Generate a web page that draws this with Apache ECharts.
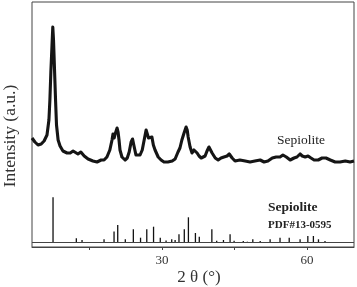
<!DOCTYPE html>
<html>
<head>
<meta charset="utf-8">
<script src="https://cdn.jsdelivr.net/npm/echarts@6/dist/echarts.min.js"></script>
<style>
html,body{margin:0;padding:0;background:#fff;}
#chart{width:357px;height:287px;}
</style>
</head>
<body>
<div id="chart"></div>
<script>
// XRD pattern (2θ in degrees, intensity in arbitrary units)
var twoTheta = [3.1,3.7,4.35,5.0,5.6,6.2,6.6,6.8,7.0,7.24,7.4,7.55,7.76,7.97,8.17,8.5,8.9,9.5,10.35,11.0,11.6,12.0,12.6,13.2,13.9,14.7,15.7,16.55,17.4,18.0,18.6,19.2,19.65,19.85,20.1,20.3,20.7,20.9,21.1,21.3,21.7,22.35,22.8,23.2,23.6,23.9,24.2,24.6,25.0,25.45,25.9,26.3,26.7,26.9,27.2,27.5,27.9,28.2,28.55,29.2,29.8,30.4,31.2,32.1,32.7,33.3,33.7,34.1,34.55,34.97,35.2,35.4,35.8,36.2,36.6,36.9,37.25,37.65,38.1,38.5,38.9,39.3,39.7,40.0,40.35,41.0,41.6,42.2,42.8,43.45,43.9,44.5,45.1,46.1,47.2,48.2,49.2,50.3,51.1,51.9,52.8,53.6,54.4,55.0,55.7,56.5,57.3,57.9,58.55,59.0,59.6,60.2,60.8,61.45,62.3,63.1,63.9,64.8,65.8,66.8,67.9,68.9,69.7];
var intensity = [109,105,102,103,106,112,127,147,175,202,220,207,177,147,122,107,101,96,94,94,96,94,93,95,91,88,86,85,87,87,90,97,107,113,109,113,119,115,107,97,90,87,89,95,105,108,101,92,91,92,97,107,117,117,109,107,110,102,97,90,87,85,85,86,88,95,99,107,114,120,117,110,100,94,97,98,94,91,89,87,91,96,100,98,94,89,87,89,90,91,93,89,86,87,86,85,86,87,85,86,89,90,90,92,90,87,89,90,93,91,90,91,89,87,87,89,89,87,85,85,86,85,86];

// Reference pattern PDF#13-0595 (stick positions and tops)
var stickTheta = [7.45,12.27,13.45,18.0,20.07,20.83,22.4,24.06,25.55,26.84,28.24,29.63,30.83,32.0,32.7,33.5,34.6,35.45,36.9,37.7,40.3,41.3,42.7,44.07,44.9,46.8,47.65,48.77,50.3,52.35,54.4,56.3,58.55,60.15,61.3,62.35,63.7];
var stickTop = [49.7,8.7,7,7.7,15.5,22,7.7,17.7,9.3,17.7,20.3,9.3,6.5,7.7,7,12.7,17.7,29.7,14,10.3,17.7,6.3,7,12.7,6.2,6,5.3,7.7,6,7.7,9.3,9.3,7.7,11,11,7.7,6];
var stickBase = 4.5;

var xTicks = [15,30,45,60];
var xLabels = [30,60];

var serif = "'Liberation Serif','Times New Roman',serif";

var curveData = twoTheta.map(function(x,i){return [x,intensity[i]];});
var stickData = stickTheta.map(function(x,i){return [x,stickTop[i]];});

var chart = echarts.init(document.getElementById('chart'), null, {renderer:'canvas'});
chart.setOption({
  animation:false,
  backgroundColor:'#fff',
  grid:{left:32, top:2, right:3, bottom:40, show:true, borderColor:'#444', borderWidth:1, backgroundColor:'transparent'},
  xAxis:{
    type:'value', min:3.1, max:69.7,
    axisLine:{show:true, onZero:false, lineStyle:{color:'#444', width:1}},
    axisTick:{show:true, inside:false, length:3, customValues:xTicks, lineStyle:{color:'#444'}},
    axisLabel:{show:true, customValues:xLabels, margin:7, color:'#333', fontFamily:serif, fontSize:13},
    splitLine:{show:false}
  },
  yAxis:{
    type:'value', min:0, max:245,
    axisLine:{show:false}, axisTick:{show:false}, axisLabel:{show:false}, splitLine:{show:false}
  },
  series:[
    {
      type:'line', data:curveData, showSymbol:false, symbol:'none',
      lineStyle:{color:'#151515', width:3.1, join:'round'}, z:3
    },
    {
      type:'custom', data:stickData,
      renderItem:function(params, api){
        var p0 = api.coord([api.value(0), stickBase]);
        var p1 = api.coord([api.value(0), api.value(1)]);
        return {type:'line', shape:{x1:p0[0], y1:p0[1], x2:p1[0], y2:p1[1]}, style:{stroke:'#111', lineWidth:1.3}};
      },
      markLine:{silent:true, symbol:'none', label:{show:false},
        lineStyle:{color:'#444', width:1, type:'solid'},
        data:[{yAxis:stickBase}]}
    }
  ],
  graphic:[
    {type:'text', x:10, y:136, rotation:Math.PI/2,
      style:{text:'Intensity (a.u.)', fontFamily:serif, fontSize:17.5, fill:'#333', align:'center', verticalAlign:'middle'}},
    {type:'text', x:199, y:278,
      style:{text:'2 θ (°)', fontFamily:serif, fontSize:17, fill:'#333', align:'center', verticalAlign:'middle'}},
    {type:'text', x:277, y:140,
      style:{text:'Sepiolite', fontFamily:serif, fontSize:13.5, fill:'#222', align:'left', verticalAlign:'middle'}},
    {type:'text', x:268, y:208,
      style:{text:'Sepiolite', fontFamily:serif, fontSize:13.5, fontWeight:'bold', fill:'#222', align:'left', verticalAlign:'middle'}},
    {type:'text', x:268, y:225,
      style:{text:'PDF#13-0595', fontFamily:serif, fontSize:11, fontWeight:'bold', fill:'#222', align:'left', verticalAlign:'middle'}}
  ]
});
</script>
</body>
</html>
